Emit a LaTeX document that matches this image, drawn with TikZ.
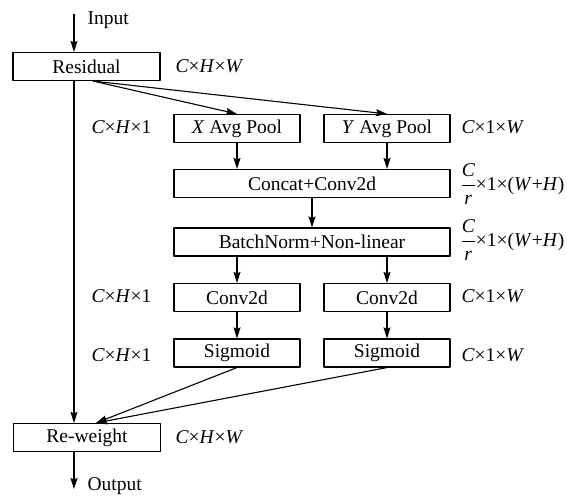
\documentclass[tikz,border=0pt]{standalone}
\usepackage{fontspec}
\usepackage{amsmath}
\setmainfont{Liberation Serif}
\usetikzlibrary{arrows.meta}

\begin{document}
\begin{tikzpicture}[x=1pt,y=-1pt,line width=1.1pt,line join=round,
    >={Stealth[length=11pt,width=7pt,inset=1.5pt]},
    every node/.style={font=\fontsize{19.5}{22}\selectfont,inner sep=0pt},
    blk/.style={draw,minimum height=28pt},
    dimlab/.style={anchor=west}]
  \useasboundingbox (0,0) rectangle (567,496);
  % blocks
  \node[blk,minimum width=147pt] (res) at (86.5,66.5) {Residual};
  \node[blk,minimum width=126pt] (xpool) at (237,128.5) {\textit{X} Avg Pool};
  \node[blk,minimum width=126pt] (ypool) at (387,128.5) {\textit{Y} Avg Pool};
  \node[blk,minimum width=276pt] (cat) at (312,183.5) {Concat+Conv2d};
  \node[blk,minimum width=276pt] (bn) at (312,242) {BatchNorm+Non-linear};
  \node[blk,minimum width=126pt] (conva) at (237,297.5) {Conv2d};
  \node[blk,minimum width=126pt] (convb) at (387,297.5) {Conv2d};
  \node[blk,minimum width=126pt] (siga) at (237,353) {Sigmoid};
  \node[blk,minimum width=126pt] (sigb) at (387,353) {Sigmoid};
  \node[blk,minimum width=147pt] (rew) at (87,437.5) {Re-weight};
  % in and out
  \coordinate (in) at (74,14);
  \coordinate (out) at (74,489);
  \coordinate (br) at ([xshift=6.5pt]res.south);
  \coordinate (rw) at ([xshift=9pt]rew.north);
  \node[anchor=west] (inlab) at (87,20) {Input};
  \node[anchor=west] (outlab) at (87,486) {Output};
  % connectors
  \draw[->] (in) -- (in |- res.north);
  \draw[->] (in |- res.south) -- (in |- rew.north);
  \draw[->] (in |- rew.south) -- (out);
  \draw[->] (br) -- (xpool.north);
  \draw[->] (br) -- (ypool.north);
  \draw[->] (xpool.south) -- (xpool.south |- cat.north);
  \draw[->] (ypool.south) -- (ypool.south |- cat.north);
  \draw[->] (cat.south) -- (bn.north);
  \draw[->] (conva.north |- bn.south) -- (conva.north);
  \draw[->] (convb.north |- bn.south) -- (convb.north);
  \draw[->] (conva) -- (siga);
  \draw[->] (convb) -- (sigb);
  \draw[->] (siga.south) -- (rw);
  \draw[->] (sigb.south) -- (rw);
  % sizes
  \node[dimlab] (lres) at (175,66) {\textit{C}×\textit{H}×\textit{W}};
  \node[dimlab] (lrew) at (175,437) {\textit{C}×\textit{H}×\textit{W}};
  \node[anchor=east] (lxp) at (152,127) {\textit{C}×\textit{H}×1};
  \node[anchor=east] (lca) at (152,296) {\textit{C}×\textit{H}×1};
  \node[anchor=east] (lsa) at (152,355) {\textit{C}×\textit{H}×1};
  \node[dimlab] (lyp) at (461,127) {\textit{C}×1×\textit{W}};
  \node[dimlab] (lcb) at (461,296) {\textit{C}×1×\textit{W}};
  \node[dimlab] (lsb) at (461,355) {\textit{C}×1×\textit{W}};
  \node[dimlab] (lcat) at (460,184) {$\dfrac{\text{\itshape C}}{\text{\itshape r}}$×1×(\textit{W}+\textit{H})};
  \node[dimlab] (lbn) at (460,240) {$\dfrac{\text{\itshape C}}{\text{\itshape r}}$×1×(\textit{W}+\textit{H})};
\end{tikzpicture}
\end{document}
